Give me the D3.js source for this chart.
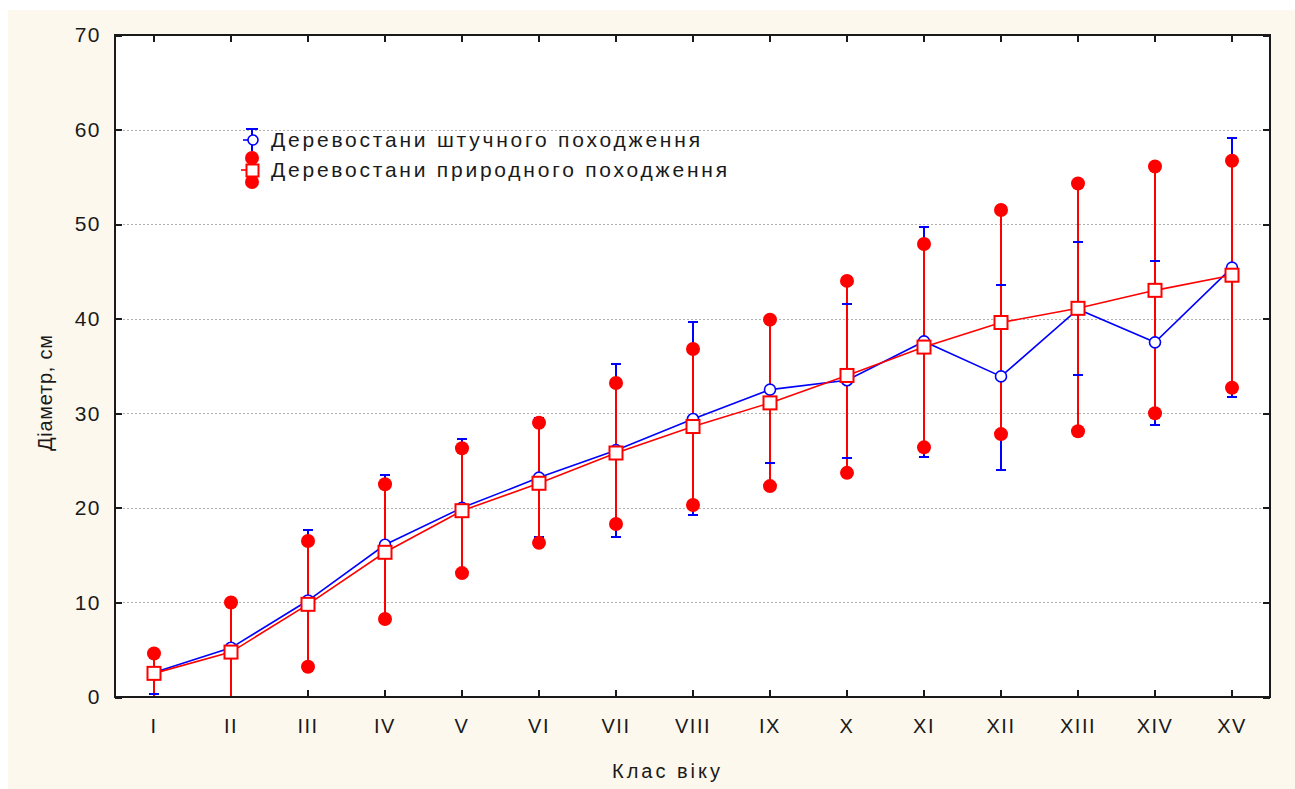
<!DOCTYPE html>
<html>
<head>
<meta charset="utf-8">
<script src="https://cdn.jsdelivr.net/npm/d3@7"></script>
<style>
  html, body { margin: 0; padding: 0; background: #ffffff; }
  svg { display: block; }
  text { font-family: "Liberation Sans", Arial, sans-serif; fill: #1a1a1a; }
</style>
</head>
<body>
<svg id="chart" width="1295" height="789"></svg>
<script>
// Age classes
const categories = ["I","II","III","IV","V","VI","VII","VIII","IX","X","XI","XII","XIII","XIV","XV"];

// Stands of artificial origin: mean diameter and whisker ends, cm
const artMean  = [2.6, 5.2, 10.2, 16.1, 20.0, 23.2, 26.1, 29.4, 32.5, 33.5, 37.6, 33.9, 41.0, 37.5, 45.4];
const artUpper = [4.7, 10.1, 17.7, 23.5, 27.3, 29.5, 35.2, 39.6, 40.3, 41.6, 49.7, 43.6, 48.1, 46.1, 59.1];
const artLower = [0.3, -0.3, 2.8, 8.7, 12.7, 16.9, 16.9, 19.2, 24.7, 25.3, 25.4, 24.0, 34.0, 28.8, 31.7];

// Stands of natural origin: mean diameter and whisker ends, cm
const natMean  = [2.5, 4.75, 9.8, 15.3, 19.7, 22.6, 25.8, 28.6, 31.1, 34.0, 37.0, 39.6, 41.1, 43.0, 44.6];
const natUpper = [4.6, 10.0, 16.5, 22.5, 26.3, 29.0, 33.2, 36.8, 39.9, 44.0, 47.9, 51.5, 54.3, 56.1, 56.7];
const natLower = [-0.8, -0.6, 3.2, 8.25, 13.1, 16.3, 18.3, 20.3, 22.3, 23.7, 26.4, 27.8, 28.1, 30.0, 32.7];

const yTicks = [0, 10, 20, 30, 40, 50, 60, 70];
const legendLabels = ["Деревостани штучного походження", "Деревостани природного походження"];
const xTitle = "Клас віку";
const yTitle = "Діаметр, см";

const svg = d3.select("#chart");
const W = 1295, H = 789;
const plot = { left: 115, right: 1270, top: 35, bottom: 697 };

const BLUE = "#0000ff", RED = "#ff0000", INK = "#1a1a1a";

// panel background
svg.append("rect").attr("x", 8).attr("y", 10).attr("width", W - 8).attr("height", H - 10)
  .attr("fill", "#fdf8ee");
svg.append("rect").attr("x", plot.left).attr("y", plot.top)
  .attr("width", plot.right - plot.left).attr("height", plot.bottom - plot.top)
  .attr("fill", "#ffffff");

const x = d3.scalePoint().domain(categories).range([plot.left, plot.right]).padding(0.5);
const y = d3.scaleLinear().domain([0, 70]).range([plot.bottom, plot.top]);

// dotted grid
svg.append("g").selectAll("line").data(yTicks.filter(v => v > 0 && v < 70)).join("line")
  .attr("x1", plot.left).attr("x2", plot.right)
  .attr("y1", d => Math.round(y(d)) + 0.5).attr("y2", d => Math.round(y(d)) + 0.5)
  .attr("stroke", "#b0b0b0").attr("stroke-width", 1).attr("stroke-dasharray", "2,2");

// axes with inward ticks on all four sides
const axL = svg.append("g").attr("transform", `translate(${plot.left},0)`)
  .call(d3.axisLeft(y).tickValues(yTicks).tickSize(-7).tickPadding(15));
const axR = svg.append("g").attr("transform", `translate(${plot.right},0)`)
  .call(d3.axisRight(y).tickValues(yTicks).tickSize(-7).tickFormat(""));
const axB = svg.append("g").attr("transform", `translate(0,${plot.bottom})`)
  .call(d3.axisBottom(x).tickSize(-7).tickPadding(22));
const axT = svg.append("g").attr("transform", `translate(0,${plot.top})`)
  .call(d3.axisTop(x).tickSize(-7).tickFormat(""));
[axL, axR, axB, axT].forEach(g => {
  g.select(".domain").remove();
  g.selectAll(".tick line").attr("stroke", INK).attr("stroke-width", 2)
    .attr("shape-rendering", "crispEdges");
});
axL.selectAll(".tick text").attr("font-size", 21).attr("letter-spacing", 1.5)
  .attr("font-family", "Liberation Sans, Arial, sans-serif").attr("fill", INK)
  .attr("x", -14);
axB.selectAll(".tick text").attr("font-size", 20).attr("letter-spacing", 1.5)
  .attr("font-family", "Liberation Sans, Arial, sans-serif").attr("fill", INK);

// frame
svg.append("rect").attr("x", plot.left).attr("y", plot.top)
  .attr("width", plot.right - plot.left).attr("height", plot.bottom - plot.top)
  .attr("fill", "none").attr("stroke", INK).attr("stroke-width", 2);

// clip to plot area
svg.append("clipPath").attr("id", "plotClip").append("rect")
  .attr("x", plot.left).attr("y", plot.top)
  .attr("width", plot.right - plot.left).attr("height", plot.bottom - plot.top - 1);

const g = svg.append("g").attr("clip-path", "url(#plotClip)");

const idx = d3.range(categories.length);
const cx = i => Math.round(x(categories[i]));
const inRange = v => v >= 0 && v <= 70;

// blue whiskers (vertical part)
g.append("g").attr("shape-rendering", "crispEdges").selectAll("line").data(idx).join("line")
  .attr("x1", cx).attr("x2", cx)
  .attr("y1", i => y(artUpper[i])).attr("y2", i => y(artLower[i]))
  .attr("stroke", BLUE).attr("stroke-width", 2);

// red whiskers
g.append("g").attr("shape-rendering", "crispEdges").selectAll("line").data(idx).join("line")
  .attr("x1", cx).attr("x2", cx)
  .attr("y1", i => y(natUpper[i])).attr("y2", i => y(natLower[i]))
  .attr("stroke", RED).attr("stroke-width", 2);

// blue caps
const caps = idx.flatMap(i => [artUpper[i], artLower[i]].filter(inRange).map(v => ({ i, v })));
g.append("g").attr("shape-rendering", "crispEdges").selectAll("line").data(caps).join("line")
  .attr("x1", d => cx(d.i) - 5).attr("x2", d => cx(d.i) + 5)
  .attr("y1", d => y(d.v)).attr("y2", d => y(d.v))
  .attr("stroke", BLUE).attr("stroke-width", 2);

// red whisker end points
const ends = idx.flatMap(i => [natUpper[i], natLower[i]].filter(inRange).map(v => ({ i, v })));
g.append("g").selectAll("circle").data(ends).join("circle")
  .attr("cx", d => cx(d.i)).attr("cy", d => y(d.v)).attr("r", 7)
  .attr("fill", RED);

// mean lines
const line = arr => d3.line().x((d, i) => cx(i)).y(d => y(d))(arr);
g.append("path").attr("d", line(artMean)).attr("fill", "none")
  .attr("stroke", BLUE).attr("stroke-width", 1.6);
g.append("path").attr("d", line(natMean)).attr("fill", "none")
  .attr("stroke", RED).attr("stroke-width", 1.6);

// mean markers
g.append("g").selectAll("circle").data(idx).join("circle")
  .attr("cx", cx).attr("cy", i => y(artMean[i])).attr("r", 5.5)
  .attr("fill", "#ffffff").attr("stroke", BLUE).attr("stroke-width", 1.6);
g.append("g").selectAll("rect").data(idx).join("rect")
  .attr("x", i => cx(i) - 6.5).attr("y", i => y(natMean[i]) - 6.5)
  .attr("width", 13).attr("height", 13)
  .attr("fill", "#ffffff").attr("stroke", RED).attr("stroke-width", 2);

// legend
const lx = 252, ly1 = 140, ly2 = 170;
const leg = svg.append("g");
leg.append("line").attr("x1", lx).attr("x2", lx).attr("y1", 129).attr("y2", 151)
  .attr("stroke", BLUE).attr("stroke-width", 2);
leg.append("line").attr("x1", lx - 6).attr("x2", lx + 6).attr("y1", 129).attr("y2", 129)
  .attr("stroke", BLUE).attr("stroke-width", 2);
leg.append("line").attr("x1", lx - 9).attr("x2", lx - 2).attr("y1", ly1).attr("y2", ly1)
  .attr("stroke", BLUE).attr("stroke-width", 1.6);
leg.append("circle").attr("cx", lx + 1).attr("cy", ly1).attr("r", 5)
  .attr("fill", "#ffffff").attr("stroke", BLUE).attr("stroke-width", 1.6);
leg.append("line").attr("x1", lx).attr("x2", lx).attr("y1", 157).attr("y2", 182)
  .attr("stroke", RED).attr("stroke-width", 2);
leg.append("circle").attr("cx", lx).attr("cy", 158).attr("r", 7).attr("fill", RED);
leg.append("circle").attr("cx", lx).attr("cy", 182).attr("r", 7).attr("fill", RED);
leg.append("line").attr("x1", lx - 11).attr("x2", lx).attr("y1", ly2).attr("y2", ly2)
  .attr("stroke", RED).attr("stroke-width", 1.6);
leg.append("rect").attr("x", lx - 5.5).attr("y", ly2 - 5.5).attr("width", 12).attr("height", 12)
  .attr("fill", "#ffffff").attr("stroke", RED).attr("stroke-width", 2);

const legendWidths = [429, 456];
leg.selectAll("text").data(legendLabels).join("text")
  .attr("x", 271).attr("y", (d, i) => [ly1, ly2][i] + 7)
  .attr("font-size", 21)
  .attr("textLength", (d, i) => legendWidths[i]).attr("lengthAdjust", "spacing")
  .text(d => d);

// axis titles
svg.append("text").attr("x", 666).attr("y", 778).attr("text-anchor", "middle")
  .attr("font-size", 20).attr("textLength", 108).attr("lengthAdjust", "spacing")
  .text(xTitle);
svg.append("text").attr("transform", "translate(52,393) rotate(-90)")
  .attr("text-anchor", "middle").attr("font-size", 20)
  .attr("textLength", 116).attr("lengthAdjust", "spacing")
  .text(yTitle);
</script>
</body>
</html>
